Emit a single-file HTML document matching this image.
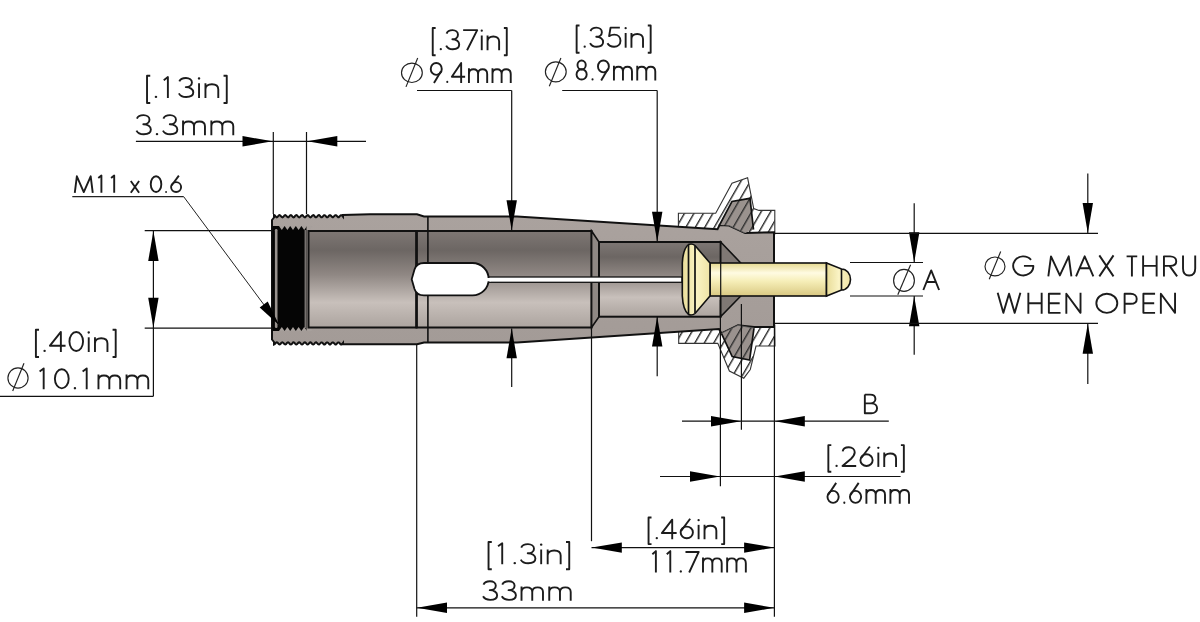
<!DOCTYPE html>
<html><head><meta charset="utf-8"><style>
html,body{margin:0;padding:0;background:#fff;width:1200px;height:622px;overflow:hidden}
svg{display:block}
.gl path,.gl ellipse{fill:none;stroke:#1c1c1c;stroke-width:1.9px;vector-effect:non-scaling-stroke;stroke-linejoin:round} .gl .f{fill:#1c1c1c}
</style></head><body>
<svg width="1200" height="622" viewBox="0 0 1200 622">
<rect width="1200" height="622" fill="#fff"/>
<defs>
<linearGradient id="bore" x1="0" y1="0" x2="0" y2="1">
 <stop offset="0" stop-color="#7e7774"/>
 <stop offset="0.2" stop-color="#6c6663"/>
 <stop offset="0.45" stop-color="#8f8783"/>
 <stop offset="0.74" stop-color="#c8c0bb"/>
 <stop offset="1" stop-color="#aca49f"/>
</linearGradient>
<linearGradient id="wall" x1="0" y1="0" x2="0" y2="1">
 <stop offset="0" stop-color="#aaa29e"/>
 <stop offset="1" stop-color="#a39b97"/>
</linearGradient>
<linearGradient id="pin" x1="0" y1="0" x2="0" y2="1">
 <stop offset="0" stop-color="#e6d98f"/>
 <stop offset="0.3" stop-color="#fffbe2"/>
 <stop offset="0.55" stop-color="#f6eeb8"/>
 <stop offset="1" stop-color="#d9c882"/>
</linearGradient>
<linearGradient id="pinh" x1="0" y1="0" x2="1" y2="0">
 <stop offset="0" stop-color="#e8dc98"/>
 <stop offset="0.5" stop-color="#faf3c4"/>
 <stop offset="1" stop-color="#efe3a6"/>
</linearGradient>
<pattern id="hatch" patternUnits="userSpaceOnUse" width="8.2" height="8.2" patternTransform="translate(2 0) rotate(30)">
 <rect width="8.2" height="8.2" fill="#fff"/>
 <line x1="0.7" y1="0" x2="0.7" y2="8.2" stroke="#2a2a2a" stroke-width="1.4"/>
</pattern>
<pattern id="hatchg" patternUnits="userSpaceOnUse" width="8.2" height="8.2" patternTransform="translate(2 0) rotate(30)">
 <rect width="8.2" height="8.2" fill="#9a928e"/>
 <line x1="0.7" y1="0" x2="0.7" y2="8.2" stroke="#2a2a2a" stroke-width="1.3"/>
</pattern>
</defs>
<polygon points="678.4,213.3 715.7,213.3 732.0,183.3 747.6,177.8 753.7,208.6 759.0,210.4 774.8,210.4 774.8,234.0 678.4,234.0" fill="url(#hatch)" stroke="#333" stroke-width="1.1"/>
<polygon points="678.7,325.0 774.8,325.0 775.0,346.0 756.0,346.0 750.3,369.5 743.8,378.2 729.4,371.0 717.8,343.4 678.7,343.4" fill="url(#hatch)" stroke="#333" stroke-width="1.1"/>
<polygon points="272.0,220.0 274.0,217.5 274.0,215.1 274.7,215.4 275.4,216.2 276.1,217.0 276.8,217.3 277.5,217.0 278.2,216.2 278.9,215.4 279.6,215.1 280.3,215.5 281.0,216.3 281.7,217.0 282.4,217.3 283.2,216.9 283.9,216.1 284.6,215.4 285.3,215.1 286.0,215.5 286.7,216.3 287.4,217.0 288.1,217.3 288.8,216.9 289.5,216.1 290.2,215.3 290.9,215.1 291.6,215.5 292.3,216.3 293.0,217.1 293.7,217.3 294.4,216.9 295.1,216.0 295.8,215.3 296.5,215.1 297.2,215.5 297.9,216.4 298.6,217.1 299.3,217.3 300.1,216.8 300.8,216.0 301.5,215.3 302.2,215.1 302.9,215.6 303.6,216.4 304.3,217.1 305.0,217.3 305.7,216.8 306.4,216.0 307.1,215.3 307.8,215.1 308.5,215.6 309.2,216.4 309.9,217.1 310.6,217.3 311.3,216.8 312.0,215.9 312.7,215.3 313.4,215.1 314.1,215.6 314.8,216.5 315.5,217.2 316.2,217.3 316.9,216.7 317.7,215.9 318.4,215.2 319.1,215.1 319.8,215.7 320.5,216.5 321.2,217.2 321.9,217.2 322.6,216.7 323.3,215.9 324.0,215.2 324.7,215.2 325.4,215.7 326.1,216.6 326.8,217.2 327.5,217.2 328.2,216.7 328.9,215.8 329.6,215.2 330.3,215.2 331.0,215.8 331.7,216.6 332.4,217.2 333.1,217.2 333.8,216.6 334.6,215.8 335.3,215.2 336.0,215.2 336.7,215.8 337.4,216.6 338.1,217.2 338.8,217.2 339.5,216.6 340.2,215.7 340.9,215.2 341.6,215.2 342.3,215.8 343.0,216.7 343.0,215.0 370.0,214.2 417.0,214.3 424.0,216.5 517.0,216.5 717.5,229.3 719.5,225.0 729.0,225.5 745.0,233.0 774.0,232.3 774.0,327.0 754.0,327.0 738.0,325.3 721.4,333.3 719.0,329.0 517.0,342.5 424.0,342.5 417.0,344.3 370.0,344.3 343.0,344.0 343.0,342.9 342.3,343.8 341.6,344.4 340.9,344.4 340.2,343.9 339.5,343.0 338.8,342.4 338.1,342.4 337.4,343.0 336.7,343.8 336.0,344.4 335.3,344.4 334.6,343.8 333.8,343.0 333.1,342.4 332.4,342.4 331.7,343.0 331.0,343.8 330.3,344.4 329.6,344.4 328.9,343.8 328.2,342.9 327.5,342.4 326.8,342.4 326.1,343.0 325.4,343.9 324.7,344.4 324.0,344.4 323.3,343.7 322.6,342.9 321.9,342.4 321.2,342.4 320.5,343.1 319.8,343.9 319.1,344.5 318.4,344.4 317.7,343.7 316.9,342.9 316.2,342.3 315.5,342.4 314.8,343.1 314.1,344.0 313.4,344.5 312.7,344.3 312.0,343.7 311.3,342.8 310.6,342.3 309.9,342.5 309.2,343.2 308.5,344.0 307.8,344.5 307.1,344.3 306.4,343.6 305.7,342.8 305.0,342.3 304.3,342.5 303.6,343.2 302.9,344.0 302.2,344.5 301.5,344.3 300.8,343.6 300.1,342.8 299.3,342.3 298.6,342.5 297.9,343.2 297.2,344.1 296.5,344.5 295.8,344.3 295.1,343.6 294.4,342.7 293.7,342.3 293.0,342.5 292.3,343.3 291.6,344.1 290.9,344.5 290.2,344.3 289.5,343.5 288.8,342.7 288.1,342.3 287.4,342.6 286.7,343.3 286.0,344.1 285.3,344.5 284.6,344.2 283.9,343.5 283.2,342.7 282.4,342.3 281.7,342.6 281.0,343.3 280.3,344.1 279.6,344.5 278.9,344.2 278.2,343.4 277.5,342.6 276.8,342.3 276.1,342.6 275.4,343.4 274.7,344.2 274.0,344.5 274.0,342.0 272.0,339.5" fill="url(#wall)" stroke="#111" stroke-width="2"/>
<polygon points="719.5,225.0 732.0,201.4 750.0,198.3 753.5,229.5 745.0,233.0 729.0,225.5" fill="url(#hatchg)"/>
<polygon points="721.4,333.3 732.2,356.5 749.6,360.0 754.0,328.2 738.0,325.3" fill="url(#hatchg)"/>
<polyline points="719.5,225.0 732.0,201.4 750.0,198.3 753.5,229.5" fill="none" stroke="#111" stroke-width="1.7"/>
<polyline points="721.4,333.3 732.2,356.5 749.6,360.0 754.0,328.2" fill="none" stroke="#111" stroke-width="1.7"/>
<polyline points="729,225.5 745,233" fill="none" stroke="#555" stroke-width="0.8"/>
<polyline points="721.4,333.3 738,325.3 754,328.2" fill="none" stroke="#555" stroke-width="0.8"/>
<rect x="272.5" y="226" width="34" height="105" fill="#050505"/>
<rect x="274.9" y="229" width="2.6" height="99" rx="1.2" fill="#98928e"/>
<path d="M279.0,226 l2.8,4 l2.8,-4 z" fill="#a7a09c"/>
<path d="M279.0,331 l2.8,-4 l2.8,4 z" fill="#a7a09c"/>
<path d="M284.6,226 l2.8,4 l2.8,-4 z" fill="#a7a09c"/>
<path d="M284.6,331 l2.8,-4 l2.8,4 z" fill="#a7a09c"/>
<path d="M290.2,226 l2.8,4 l2.8,-4 z" fill="#a7a09c"/>
<path d="M290.2,331 l2.8,-4 l2.8,4 z" fill="#a7a09c"/>
<path d="M295.8,226 l2.8,4 l2.8,-4 z" fill="#a7a09c"/>
<path d="M295.8,331 l2.8,-4 l2.8,4 z" fill="#a7a09c"/>
<path d="M301.4,226 l2.8,4 l2.8,-4 z" fill="#a7a09c"/>
<path d="M301.4,331 l2.8,-4 l2.8,4 z" fill="#a7a09c"/>
<path d="M307.0,226 l2.8,4 l2.8,-4 z" fill="#a7a09c"/>
<path d="M307.0,331 l2.8,-4 l2.8,4 z" fill="#a7a09c"/>
<line x1="305.2" y1="230" x2="305.2" y2="328" stroke="#aaa4a0" stroke-width="1"/>
<rect x="308.5" y="231" width="108" height="96.5" fill="url(#bore)" stroke="#111" stroke-width="2"/>
<rect x="416.5" y="231" width="175" height="96.5" fill="url(#bore)" stroke="#111" stroke-width="2"/>
<polygon points="591.6,231 599,242 599,316.7 591.6,327.5" fill="#8f8884" stroke="#111" stroke-width="1.6"/>
<rect x="599" y="242" width="121.7" height="74.7" fill="url(#bore)" stroke="#111" stroke-width="2"/>
<polygon points="720.7,242 740.8,263 740.8,296 720.7,316.6" fill="#7f7874" stroke="#111" stroke-width="1.6"/>
<line x1="416.7" y1="231" x2="416.7" y2="327.5" stroke="#111" stroke-width="2.2"/>
<line x1="427.9" y1="216.5" x2="427.9" y2="342.5" stroke="#111" stroke-width="1.6"/>
<rect x="486" y="277" width="196" height="5.3" fill="#fff" stroke="#111" stroke-width="1.3"/>
<path d="M424,263 L472.5,263 A16.2,16.2 0 0 1 472.5,295.4 L424,295.4 Q416.5,295.4 414.5,289 L411.7,279.2 L414.5,269.4 Q416.5,263 424,263 Z" fill="#fff" stroke="#111" stroke-width="1.8"/>
<rect x="485" y="278" width="6" height="3.3" fill="#fff"/>
<rect x="710" y="263" width="116.5" height="33" fill="url(#pin)" stroke="#111" stroke-width="1.6"/>
<line x1="720.7" y1="263" x2="720.7" y2="296" stroke="#111" stroke-width="1.2"/>
<path d="M826.5,263 L841.5,269 A9,10.5 0 0 1 841.5,290 L826.5,296 Z" fill="url(#pinh)" stroke="#111" stroke-width="1.6"/>
<line x1="841.5" y1="269" x2="841.5" y2="290" stroke="#111" stroke-width="1.6"/>
<path d="M688.5,244.5 Q692,243 695,245.5 L710,263 L710,296 L695,313.5 Q692,316 688.5,314.5 Q683,310 682.3,296 L682.3,263 Q683,249 688.5,244.5 Z" fill="url(#pinh)" stroke="#111" stroke-width="1.6"/>
<line x1="688.5" y1="245" x2="688.5" y2="314" stroke="#111" stroke-width="1.7"/>
<line x1="695" y1="246" x2="695" y2="313" stroke="#111" stroke-width="1.7"/>
<g><line x1="135.9" y1="141.3" x2="366" y2="141.3" stroke="#111" stroke-width="1.2"/><line x1="273.3" y1="132" x2="273.3" y2="214" stroke="#111" stroke-width="1.2"/><line x1="306.5" y1="132" x2="306.5" y2="214" stroke="#111" stroke-width="1.2"/><polygon points="272.5,141.3 242.5,146.5 242.5,136.1" fill="#000"/><polygon points="307.3,141.3 337.3,136.1 337.3,146.5" fill="#000"/><line x1="72.3" y1="196.7" x2="183.7" y2="196.7" stroke="#222" stroke-width="1.3"/><line x1="183.7" y1="196.7" x2="279.2" y2="325.3" stroke="#222" stroke-width="1.0"/><polygon points="279.2,325.3 259.7,307.4 267.7,301.4" fill="#000"/><line x1="144.7" y1="230.7" x2="272" y2="230.7" stroke="#111" stroke-width="1.2"/><line x1="144.7" y1="328.2" x2="272" y2="328.2" stroke="#111" stroke-width="1.2"/><line x1="153.4" y1="230.7" x2="153.4" y2="396.3" stroke="#111" stroke-width="1.2"/><line x1="0" y1="396.3" x2="153.4" y2="396.3" stroke="#111" stroke-width="1.2"/><polygon points="153.4,231.0 158.6,261.0 148.2,261.0" fill="#000"/><polygon points="153.4,327.8 148.2,297.8 158.6,297.8" fill="#000"/><line x1="417" y1="90.5" x2="511.7" y2="90.5" stroke="#111" stroke-width="1.2"/><line x1="511.7" y1="90.5" x2="511.7" y2="230" stroke="#111" stroke-width="1.2"/><polygon points="511.7,230.3 506.5,200.3 516.9,200.3" fill="#000"/><line x1="511.7" y1="328.5" x2="511.7" y2="387" stroke="#111" stroke-width="1.2"/><polygon points="511.7,328.3 516.9,358.3 506.5,358.3" fill="#000"/><line x1="562.2" y1="90.5" x2="657.2" y2="90.5" stroke="#111" stroke-width="1.2"/><line x1="657.2" y1="90.5" x2="657.2" y2="241" stroke="#111" stroke-width="1.2"/><polygon points="657.2,241.8 652.0,211.8 662.4,211.8" fill="#000"/><line x1="657.2" y1="316.5" x2="657.2" y2="376.3" stroke="#111" stroke-width="1.2"/><polygon points="657.2,316.5 662.4,346.5 652.0,346.5" fill="#000"/><line x1="850" y1="262.5" x2="923" y2="262.5" stroke="#111" stroke-width="1.2"/><line x1="850" y1="296" x2="923" y2="296" stroke="#111" stroke-width="1.2"/><line x1="914.2" y1="203.2" x2="914.2" y2="262" stroke="#111" stroke-width="1.2"/><polygon points="914.2,262.3 909.0,232.3 919.4,232.3" fill="#000"/><line x1="914.2" y1="296" x2="914.2" y2="354.8" stroke="#111" stroke-width="1.2"/><polygon points="914.2,296.2 919.4,326.2 909.0,326.2" fill="#000"/><line x1="774" y1="233.4" x2="1098" y2="233.4" stroke="#111" stroke-width="1.2"/><line x1="774" y1="323.4" x2="1098" y2="323.4" stroke="#111" stroke-width="1.2"/><line x1="1087.8" y1="173.5" x2="1087.8" y2="233" stroke="#111" stroke-width="1.2"/><polygon points="1087.8,232.9 1082.6,202.9 1093.0,202.9" fill="#000"/><line x1="1087.8" y1="323.5" x2="1087.8" y2="384" stroke="#111" stroke-width="1.2"/><polygon points="1087.8,323.7 1093.0,353.7 1082.6,353.7" fill="#000"/><line x1="720.4" y1="300" x2="720.4" y2="486.2" stroke="#111" stroke-width="1.2"/><line x1="741.4" y1="304" x2="741.4" y2="429.8" stroke="#111" stroke-width="1.2"/><line x1="774.4" y1="327" x2="774.4" y2="616.7" stroke="#111" stroke-width="1.2"/><line x1="682" y1="421.2" x2="888.8" y2="421.2" stroke="#111" stroke-width="1.2"/><polygon points="741.0,421.2 711.0,426.4 711.0,416.0" fill="#000"/><polygon points="774.8,421.2 804.8,416.0 804.8,426.4" fill="#000"/><line x1="660" y1="476.5" x2="900.6" y2="476.5" stroke="#111" stroke-width="1.2"/><polygon points="720.0,476.5 690.0,481.7 690.0,471.3" fill="#000"/><polygon points="774.8,476.5 804.8,471.3 804.8,481.7" fill="#000"/><line x1="591.5" y1="327" x2="591.5" y2="541.2" stroke="#111" stroke-width="1.2"/><line x1="591.5" y1="547.6" x2="774.4" y2="547.6" stroke="#111" stroke-width="1.2"/><polygon points="591.8,547.6 621.8,542.4 621.8,552.8" fill="#000"/><polygon points="774.1,547.6 744.1,552.8 744.1,542.4" fill="#000"/><line x1="416.7" y1="344" x2="416.7" y2="616.7" stroke="#111" stroke-width="1.2"/><line x1="416.7" y1="607.8" x2="774.4" y2="607.8" stroke="#111" stroke-width="1.2"/><polygon points="417.0,607.8 447.0,602.6 447.0,613.0" fill="#000"/><polygon points="774.1,607.8 744.1,613.0 744.1,602.6" fill="#000"/></g>
<g><ellipse cx="411.9" cy="72.8" rx="10.4" ry="9.7" fill="none" stroke="#222" stroke-width="1.15"/><line x1="406.0" y1="86.9" x2="417.7" y2="58.0" stroke="#222" stroke-width="1.15"/><ellipse cx="555.8" cy="71.8" rx="10.4" ry="10.0" fill="none" stroke="#222" stroke-width="1.15"/><line x1="549.3" y1="86.3" x2="560.9" y2="58.0" stroke="#222" stroke-width="1.15"/><ellipse cx="18.0" cy="378.0" rx="10.1" ry="10.1" fill="none" stroke="#222" stroke-width="1.15"/><line x1="12.7" y1="391.0" x2="24.0" y2="363.3" stroke="#222" stroke-width="1.15"/><ellipse cx="904.0" cy="280.4" rx="10.4" ry="11.0" fill="none" stroke="#222" stroke-width="1.15"/><line x1="897.8" y1="294.7" x2="910.6" y2="264.7" stroke="#222" stroke-width="1.15"/><ellipse cx="995.0" cy="266.4" rx="10.0" ry="9.4" fill="none" stroke="#222" stroke-width="1.15"/><line x1="989.2" y1="279.3" x2="1000.7" y2="251.5" stroke="#222" stroke-width="1.15"/></g>
<g><g class="gl" transform="translate(144.51 77.00) scale(0.2291 0.2100)"><g transform="translate(0 0)"><path d="M25,-6 L11,-6 L11,124 L25,124"/></g><g transform="translate(34 0)"><circle cx="16" cy="95" r="5.5" class="f"/></g><g transform="translate(66 0)"><path d="M18,15 L36,0.5 L36,100"/></g><g transform="translate(140 0)"><path d="M12,21 C16,10 27,4.5 41,4.5 C56,4.5 67,14 67,26 C67,39 56,48 40,48 C59,48 73,59 73,73 C73,87 60,95.5 42,95.5 C27,95.5 15,89 10,78"/></g><g transform="translate(224 0)"><path d="M14,30 L14,100"/><circle cx="14" cy="7" r="5.5" class="f"/></g><g transform="translate(252 0)"><path d="M14,30 L14,100 M14,59 C14,43 25,34.5 42,34.5 C59,34.5 70,43 70,59 L70,100"/></g><g transform="translate(336 0)"><path d="M9,-6 L23,-6 L23,124 L9,124"/></g></g><g class="gl" transform="translate(134.19 114.20) scale(0.2283 0.2100)"><g transform="translate(0 0)"><path d="M12,21 C16,10 27,4.5 41,4.5 C56,4.5 67,14 67,26 C67,39 56,48 40,48 C59,48 73,59 73,73 C73,87 60,95.5 42,95.5 C27,95.5 15,89 10,78"/></g><g transform="translate(84 0)"><circle cx="16" cy="95" r="5.5" class="f"/></g><g transform="translate(116 0)"><path d="M12,21 C16,10 27,4.5 41,4.5 C56,4.5 67,14 67,26 C67,39 56,48 40,48 C59,48 73,59 73,73 C73,87 60,95.5 42,95.5 C27,95.5 15,89 10,78"/></g><g transform="translate(200 0)"><path d="M14,30 L14,100 M14,57 C14,42 23,34.5 38,34.5 C53,34.5 62,42 62,57 L62,100 M62,57 C62,42 71,34.5 86,34.5 C101,34.5 110,42 110,57 L110,100"/></g><g transform="translate(324 0)"><path d="M14,30 L14,100 M14,57 C14,42 23,34.5 38,34.5 C53,34.5 62,42 62,57 L62,100 M62,57 C62,42 71,34.5 86,34.5 C101,34.5 110,42 110,57 L110,100"/></g></g><g class="gl" transform="translate(73.05 175.50) scale(0.1729 0.1730)"><g transform="translate(0 0)"><path d="M10,100 L22,4.5 L62,95.5 L102,4.5 L114,100"/></g><g transform="translate(128 0)"><path d="M18,15 L36,0.5 L36,100"/></g><g transform="translate(202 0)"><path d="M18,15 L36,0.5 L36,100"/></g><g transform="translate(321 0)"><path d="M13,32 L61,100 M61,32 L13,100"/></g><g transform="translate(438 0)"><ellipse cx="42" cy="50" rx="30.5" ry="45.5"/></g><g transform="translate(522 0)"><circle cx="16" cy="95" r="5.5" class="f"/></g><g transform="translate(554 0)"><path d="M58,0.5 L16,58"/><ellipse cx="42" cy="67" rx="29" ry="28.5"/></g></g><g class="gl" transform="translate(430.46 29.20) scale(0.2068 0.2100)"><g transform="translate(0 0)"><path d="M25,-6 L11,-6 L11,124 L25,124"/></g><g transform="translate(34 0)"><circle cx="16" cy="95" r="5.5" class="f"/></g><g transform="translate(66 0)"><path d="M12,21 C16,10 27,4.5 41,4.5 C56,4.5 67,14 67,26 C67,39 56,48 40,48 C59,48 73,59 73,73 C73,87 60,95.5 42,95.5 C27,95.5 15,89 10,78"/></g><g transform="translate(150 0)"><path d="M8,4.5 L76,4.5 L27,100"/></g><g transform="translate(234 0)"><path d="M14,30 L14,100"/><circle cx="14" cy="7" r="5.5" class="f"/></g><g transform="translate(262 0)"><path d="M14,30 L14,100 M14,59 C14,43 25,34.5 42,34.5 C59,34.5 70,43 70,59 L70,100"/></g><g transform="translate(346 0)"><path d="M9,-6 L23,-6 L23,124 L9,124"/></g></g><g class="gl" transform="translate(428.28 62.00) scale(0.1900 0.2100)"><g transform="translate(0 0)"><ellipse cx="42" cy="33" rx="29" ry="28.5"/><path d="M67,44 L30,100"/></g><g transform="translate(84 0)"><circle cx="16" cy="95" r="5.5" class="f"/></g><g transform="translate(116 0)"><path d="M57,100 L57,4.5 L8,70 L78,70"/></g><g transform="translate(200 0)"><path d="M14,30 L14,100 M14,57 C14,42 23,34.5 38,34.5 C53,34.5 62,42 62,57 L62,100 M62,57 C62,42 71,34.5 86,34.5 C101,34.5 110,42 110,57 L110,100"/></g><g transform="translate(324 0)"><path d="M14,30 L14,100 M14,57 C14,42 23,34.5 38,34.5 C53,34.5 62,42 62,57 L62,100 M62,57 C62,42 71,34.5 86,34.5 C101,34.5 110,42 110,57 L110,100"/></g></g><g class="gl" transform="translate(574.36 26.70) scale(0.2068 0.2100)"><g transform="translate(0 0)"><path d="M25,-6 L11,-6 L11,124 L25,124"/></g><g transform="translate(34 0)"><circle cx="16" cy="95" r="5.5" class="f"/></g><g transform="translate(66 0)"><path d="M12,21 C16,10 27,4.5 41,4.5 C56,4.5 67,14 67,26 C67,39 56,48 40,48 C59,48 73,59 73,73 C73,87 60,95.5 42,95.5 C27,95.5 15,89 10,78"/></g><g transform="translate(150 0)"><path d="M70,4.5 L25,4.5 L18,45 C26,40 34,37.5 43,37.5 C61,37.5 73,50 73,67 C73,84 60,95.5 42,95.5 C28,95.5 16,89 10,79"/></g><g transform="translate(234 0)"><path d="M14,30 L14,100"/><circle cx="14" cy="7" r="5.5" class="f"/></g><g transform="translate(262 0)"><path d="M14,30 L14,100 M14,59 C14,43 25,34.5 42,34.5 C59,34.5 70,43 70,59 L70,100"/></g><g transform="translate(346 0)"><path d="M9,-6 L23,-6 L23,124 L9,124"/></g></g><g class="gl" transform="translate(573.73 59.50) scale(0.1879 0.2100)"><g transform="translate(0 0)"><ellipse cx="42" cy="26" rx="22" ry="21.5"/><ellipse cx="42" cy="71" rx="27" ry="24.5"/></g><g transform="translate(84 0)"><circle cx="16" cy="95" r="5.5" class="f"/></g><g transform="translate(116 0)"><ellipse cx="42" cy="33" rx="29" ry="28.5"/><path d="M67,44 L30,100"/></g><g transform="translate(200 0)"><path d="M14,30 L14,100 M14,57 C14,42 23,34.5 38,34.5 C53,34.5 62,42 62,57 L62,100 M62,57 C62,42 71,34.5 86,34.5 C101,34.5 110,42 110,57 L110,100"/></g><g transform="translate(324 0)"><path d="M14,30 L14,100 M14,57 C14,42 23,34.5 38,34.5 C53,34.5 62,42 62,57 L62,100 M62,57 C62,42 71,34.5 86,34.5 C101,34.5 110,42 110,57 L110,100"/></g></g><g class="gl" transform="translate(33.45 331.00) scale(0.2229 0.2100)"><g transform="translate(0 0)"><path d="M25,-6 L11,-6 L11,124 L25,124"/></g><g transform="translate(34 0)"><circle cx="16" cy="95" r="5.5" class="f"/></g><g transform="translate(66 0)"><path d="M57,100 L57,4.5 L8,70 L78,70"/></g><g transform="translate(150 0)"><ellipse cx="42" cy="50" rx="30.5" ry="45.5"/></g><g transform="translate(234 0)"><path d="M14,30 L14,100"/><circle cx="14" cy="7" r="5.5" class="f"/></g><g transform="translate(262 0)"><path d="M14,30 L14,100 M14,59 C14,43 25,34.5 42,34.5 C59,34.5 70,43 70,59 L70,100"/></g><g transform="translate(346 0)"><path d="M9,-6 L23,-6 L23,124 L9,124"/></g></g><g class="gl" transform="translate(35.53 368.30) scale(0.2264 0.2100)"><g transform="translate(0 0)"><path d="M18,15 L36,0.5 L36,100"/></g><g transform="translate(74 0)"><ellipse cx="42" cy="50" rx="30.5" ry="45.5"/></g><g transform="translate(158 0)"><circle cx="16" cy="95" r="5.5" class="f"/></g><g transform="translate(190 0)"><path d="M18,15 L36,0.5 L36,100"/></g><g transform="translate(264 0)"><path d="M14,30 L14,100 M14,57 C14,42 23,34.5 38,34.5 C53,34.5 62,42 62,57 L62,100 M62,57 C62,42 71,34.5 86,34.5 C101,34.5 110,42 110,57 L110,100"/></g><g transform="translate(388 0)"><path d="M14,30 L14,100 M14,57 C14,42 23,34.5 38,34.5 C53,34.5 62,42 62,57 L62,100 M62,57 C62,42 71,34.5 86,34.5 C101,34.5 110,42 110,57 L110,100"/></g></g><g class="gl" transform="translate(921.90 269.50) scale(0.2023 0.2050)"><g transform="translate(0 0)"><path d="M7,100 L46,4.5 L85,100 M22,61 L70,61"/></g></g><g class="gl" transform="translate(1011.31 255.40) scale(0.2217 0.2100)"><g transform="translate(0 0)"><path d="M89,21 A45.5,45.5 0 1 0 99.5,50 L57,50"/></g><g transform="translate(157 0)"><path d="M10,100 L22,4.5 L62,95.5 L102,4.5 L114,100"/></g><g transform="translate(285 0)"><path d="M7,100 L46,4.5 L85,100 M22,61 L70,61"/></g><g transform="translate(389 0)"><path d="M8,0 L72,100 M72,0 L8,100"/></g><g transform="translate(514 0)"><path d="M6,4.5 L54,4.5 M30,4.5 L30,100"/></g><g transform="translate(578 0)"><path d="M16.5,0 L16.5,100 M77.5,0 L77.5,100 M16.5,50 L77.5,50"/></g><g transform="translate(672 0)"><path d="M16.5,100 L16.5,4.5 L44,4.5 C61,4.5 72,14 72,27.5 C72,41 61,50 44,50 L16.5,50 M42,50 L76,100"/></g><g transform="translate(758 0)"><path d="M16.5,0 L16.5,62 C16.5,84 27,95.5 44,95.5 C61,95.5 71.5,84 71.5,62 L71.5,0"/></g></g><g class="gl" transform="translate(995.93 292.80) scale(0.2183 0.2100)"><g transform="translate(0 0)"><path d="M8,0 L34,95.5 L60,4.5 L86,95.5 L112,0"/></g><g transform="translate(132 0)"><path d="M16.5,0 L16.5,100 M77.5,0 L77.5,100 M16.5,50 L77.5,50"/></g><g transform="translate(226 0)"><path d="M70,4.5 L16.5,4.5 L16.5,95.5 L70,95.5 M16.5,50 L66,50"/></g><g transform="translate(306 0)"><path d="M16.5,100 L16.5,4.5 L81.5,95.5 L81.5,0"/></g><g transform="translate(449 0)"><ellipse cx="59" cy="50" rx="48" ry="45.5"/></g><g transform="translate(573 0)"><path d="M16.5,100 L16.5,4.5 L44,4.5 C61,4.5 72,15 72,29 C72,43 61,52 44,52 L16.5,52"/></g><g transform="translate(659 0)"><path d="M70,4.5 L16.5,4.5 L16.5,95.5 L70,95.5 M16.5,50 L66,50"/></g><g transform="translate(739 0)"><path d="M16.5,100 L16.5,4.5 L81.5,95.5 L81.5,0"/></g></g><g class="gl" transform="translate(861.52 393.70) scale(0.2074 0.2050)"><g transform="translate(0 0)"><path d="M16,4.5 L16,95.5 L47,95.5 C64,95.5 75,85 75,71 C75,57 64,47 47,47 L16,47 M16,4.5 L42,4.5 C57,4.5 67,13 67,25.5 C67,38 57,47 42,47"/></g></g><g class="gl" transform="translate(826.03 446.40) scale(0.2109 0.2050)"><g transform="translate(0 0)"><path d="M25,-6 L11,-6 L11,124 L25,124"/></g><g transform="translate(34 0)"><circle cx="16" cy="95" r="5.5" class="f"/></g><g transform="translate(66 0)"><path d="M13,24 C15,11 27,4.5 42,4.5 C58,4.5 70,15 70,29 C70,41 63,50 53,60 L12,95.5 L77,95.5"/></g><g transform="translate(150 0)"><path d="M58,0.5 L16,58"/><ellipse cx="42" cy="67" rx="29" ry="28.5"/></g><g transform="translate(234 0)"><path d="M14,30 L14,100"/><circle cx="14" cy="7" r="5.5" class="f"/></g><g transform="translate(262 0)"><path d="M14,30 L14,100 M14,59 C14,43 25,34.5 42,34.5 C59,34.5 70,43 70,59 L70,100"/></g><g transform="translate(346 0)"><path d="M9,-6 L23,-6 L23,124 L9,124"/></g></g><g class="gl" transform="translate(824.95 482.80) scale(0.1937 0.2100)"><g transform="translate(0 0)"><path d="M58,0.5 L16,58"/><ellipse cx="42" cy="67" rx="29" ry="28.5"/></g><g transform="translate(84 0)"><circle cx="16" cy="95" r="5.5" class="f"/></g><g transform="translate(116 0)"><path d="M58,0.5 L16,58"/><ellipse cx="42" cy="67" rx="29" ry="28.5"/></g><g transform="translate(200 0)"><path d="M14,30 L14,100 M14,57 C14,42 23,34.5 38,34.5 C53,34.5 62,42 62,57 L62,100 M62,57 C62,42 71,34.5 86,34.5 C101,34.5 110,42 110,57 L110,100"/></g><g transform="translate(324 0)"><path d="M14,30 L14,100 M14,57 C14,42 23,34.5 38,34.5 C53,34.5 62,42 62,57 L62,100 M62,57 C62,42 71,34.5 86,34.5 C101,34.5 110,42 110,57 L110,100"/></g></g><g class="gl" transform="translate(646.23 518.70) scale(0.2112 0.2050)"><g transform="translate(0 0)"><path d="M25,-6 L11,-6 L11,124 L25,124"/></g><g transform="translate(34 0)"><circle cx="16" cy="95" r="5.5" class="f"/></g><g transform="translate(66 0)"><path d="M57,100 L57,4.5 L8,70 L78,70"/></g><g transform="translate(150 0)"><path d="M58,0.5 L16,58"/><ellipse cx="42" cy="67" rx="29" ry="28.5"/></g><g transform="translate(234 0)"><path d="M14,30 L14,100"/><circle cx="14" cy="7" r="5.5" class="f"/></g><g transform="translate(262 0)"><path d="M14,30 L14,100 M14,59 C14,43 25,34.5 42,34.5 C59,34.5 70,43 70,59 L70,100"/></g><g transform="translate(346 0)"><path d="M9,-6 L23,-6 L23,124 L9,124"/></g></g><g class="gl" transform="translate(648.87 551.00) scale(0.1947 0.2150)"><g transform="translate(0 0)"><path d="M18,15 L36,0.5 L36,100"/></g><g transform="translate(74 0)"><path d="M18,15 L36,0.5 L36,100"/></g><g transform="translate(148 0)"><circle cx="16" cy="95" r="5.5" class="f"/></g><g transform="translate(180 0)"><path d="M8,4.5 L76,4.5 L27,100"/></g><g transform="translate(264 0)"><path d="M14,30 L14,100 M14,57 C14,42 23,34.5 38,34.5 C53,34.5 62,42 62,57 L62,100 M62,57 C62,42 71,34.5 86,34.5 C101,34.5 110,42 110,57 L110,100"/></g><g transform="translate(388 0)"><path d="M14,30 L14,100 M14,57 C14,42 23,34.5 38,34.5 C53,34.5 62,42 62,57 L62,100 M62,57 C62,42 71,34.5 86,34.5 C101,34.5 110,42 110,57 L110,100"/></g></g><g class="gl" transform="translate(485.99 543.20) scale(0.2319 0.2100)"><g transform="translate(0 0)"><path d="M25,-6 L11,-6 L11,124 L25,124"/></g><g transform="translate(34 0)"><path d="M18,15 L36,0.5 L36,100"/></g><g transform="translate(108 0)"><circle cx="16" cy="95" r="5.5" class="f"/></g><g transform="translate(140 0)"><path d="M12,21 C16,10 27,4.5 41,4.5 C56,4.5 67,14 67,26 C67,39 56,48 40,48 C59,48 73,59 73,73 C73,87 60,95.5 42,95.5 C27,95.5 15,89 10,78"/></g><g transform="translate(224 0)"><path d="M14,30 L14,100"/><circle cx="14" cy="7" r="5.5" class="f"/></g><g transform="translate(252 0)"><path d="M14,30 L14,100 M14,59 C14,43 25,34.5 42,34.5 C59,34.5 70,43 70,59 L70,100"/></g><g transform="translate(336 0)"><path d="M9,-6 L23,-6 L23,124 L9,124"/></g></g><g class="gl" transform="translate(480.82 580.30) scale(0.2236 0.2050)"><g transform="translate(0 0)"><path d="M12,21 C16,10 27,4.5 41,4.5 C56,4.5 67,14 67,26 C67,39 56,48 40,48 C59,48 73,59 73,73 C73,87 60,95.5 42,95.5 C27,95.5 15,89 10,78"/></g><g transform="translate(84 0)"><path d="M12,21 C16,10 27,4.5 41,4.5 C56,4.5 67,14 67,26 C67,39 56,48 40,48 C59,48 73,59 73,73 C73,87 60,95.5 42,95.5 C27,95.5 15,89 10,78"/></g><g transform="translate(168 0)"><path d="M14,30 L14,100 M14,57 C14,42 23,34.5 38,34.5 C53,34.5 62,42 62,57 L62,100 M62,57 C62,42 71,34.5 86,34.5 C101,34.5 110,42 110,57 L110,100"/></g><g transform="translate(292 0)"><path d="M14,30 L14,100 M14,57 C14,42 23,34.5 38,34.5 C53,34.5 62,42 62,57 L62,100 M62,57 C62,42 71,34.5 86,34.5 C101,34.5 110,42 110,57 L110,100"/></g></g></g>
</svg>
</body></html>
